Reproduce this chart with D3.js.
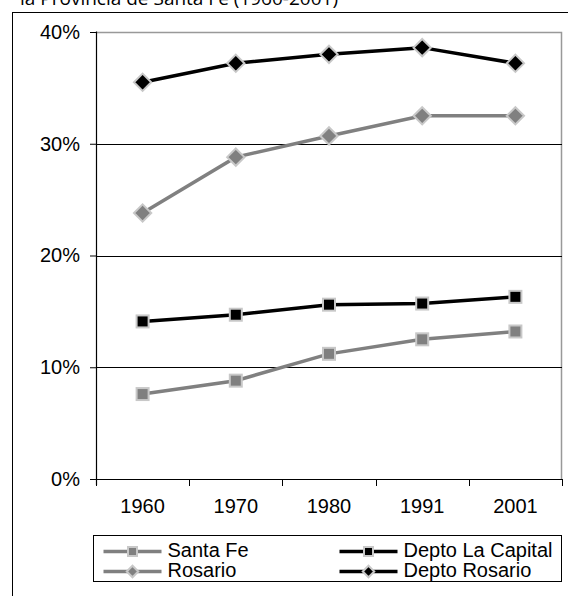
<!DOCTYPE html>
<html>
<head>
<meta charset="utf-8">
<script src="https://cdn.jsdelivr.net/npm/d3@7"></script>
<style>
  body { margin: 0; background: #fff; }
  svg { display: block; }
  .lbl { font-family: "Liberation Sans", Arial, sans-serif; fill: #000; }
</style>
</head>
<body>
<svg id="viz"></svg>
<script>
// chart data
var years = ['1960', '1970', '1980', '1991', '2001'];
var santaFe = [7.6, 8.8, 11.2, 12.5, 13.2];
var deptoLaCapital = [14.1, 14.7, 15.6, 15.7, 16.3];
var rosario = [23.8, 28.8, 30.7, 32.5, 32.5];
var deptoRosario = [35.5, 37.2, 38.0, 38.6, 37.2];
var yTicks = [0, 10, 20, 30, 40];

var seriesList = [
  { name: 'Santa Fe', values: santaFe, color: '#808080', shape: 'square' },
  { name: 'Depto La Capital', values: deptoLaCapital, color: '#000', shape: 'square' },
  { name: 'Rosario', values: rosario, color: '#808080', shape: 'diamond' },
  { name: 'Depto Rosario', values: deptoRosario, color: '#000', shape: 'diamond' }
];

var width = 568, height = 596;
var margin = { top: 32, right: 6, bottom: 117, left: 96 };
var drawWidth = width - margin.left - margin.right;
var drawHeight = height - margin.top - margin.bottom;

var svg = d3.select('#viz').attr('width', width).attr('height', height);

// title (cut off at top)
svg.append('text')
   .attr('x', 20).attr('y', 5)
   .style('font-family', '"Open Sans", "DejaVu Sans", sans-serif')
   .style('font-size', '19px')
   .text('la Provincia de Santa Fe (1960-2001)');

// outer chart frame
svg.append('rect')
   .attr('x', 12.5).attr('y', 12.5)
   .attr('width', 600).attr('height', 600)
   .attr('fill', 'none').attr('stroke', '#000').attr('stroke-width', 1);

var g = svg.append('g').attr('transform', `translate(${margin.left}, ${margin.top})`);

var xScale = d3.scaleBand().domain(years).range([0, drawWidth]);
var yScale = d3.scaleLinear().domain([0, 40]).range([drawHeight, 0]);

// plot area border (gray top/right)
g.append('path')
 .attr('d', `M0.5,0.5H${drawWidth - 0.5}V${drawHeight}`)
 .attr('fill', 'none').attr('stroke', '#999').attr('stroke-width', 1.5);

// gridlines
g.selectAll('.grid').data(yTicks.slice(1, 4)).enter()
 .append('line')
 .attr('x1', 0).attr('x2', drawWidth)
 .attr('y1', d => Math.round(yScale(d)) + 0.5).attr('y2', d => Math.round(yScale(d)) + 0.5)
 .attr('stroke', '#000').attr('stroke-width', 1);

// y axis
var yAxis = d3.axisLeft(yScale).tickValues(yTicks).tickFormat(d => d + '%').tickSize(6).tickPadding(10);
var yg = g.append('g').call(yAxis).attr('font-family', null).attr('font-size', null);
yg.select('.domain').attr('d', `M0.5,-0.5V${drawHeight + 6}`).attr('stroke-width', 1.2);
yg.selectAll('text').attr('class', 'lbl').style('font-size', '20px');

// x axis
var xg = g.append('g').attr('transform', `translate(0, ${drawHeight})`);
xg.append('line').attr('x1', -6).attr('x2', drawWidth).attr('y1', 0.5).attr('y2', 0.5)
  .attr('stroke', '#000').attr('stroke-width', 1.2);
xg.selectAll('.xtick').data(years.concat(['end'])).enter()
  .append('line')
  .attr('x1', (d, i) => Math.round(i * xScale.step()) + 0.5)
  .attr('x2', (d, i) => Math.round(i * xScale.step()) + 0.5)
  .attr('y1', 0).attr('y2', 7)
  .attr('stroke', '#000');
xg.selectAll('.xlabel').data(years).enter()
  .append('text')
  .attr('class', 'lbl')
  .attr('x', d => xScale(d) + xScale.bandwidth() / 2)
  .attr('y', 34)
  .attr('text-anchor', 'middle')
  .style('font-size', '20px')
  .text(d => d);

var line = d3.line()
  .x((d, i) => xScale(years[i]) + xScale.bandwidth() / 2)
  .y(d => yScale(d));

function drawMarker(sel, shape, color, size) {
  if (shape === 'square') {
    sel.append('rect')
       .attr('x', -size / 2).attr('y', -size / 2)
       .attr('width', size).attr('height', size)
       .attr('fill', color).attr('stroke', '#c8c8c8').attr('stroke-width', 2);
  } else {
    var r = size * 0.72;
    sel.append('path')
       .attr('d', `M0,${-r}L${r},0L0,${r}L${-r},0Z`)
       .attr('fill', color).attr('stroke', '#c8c8c8').attr('stroke-width', 2);
  }
}

seriesList.forEach(function (s) {
  g.append('path')
   .attr('d', line(s.values))
   .attr('fill', 'none').attr('stroke', s.color).attr('stroke-width', 3.5);
  s.values.forEach(function (v, i) {
    var m = g.append('g')
      .attr('transform', `translate(${xScale(years[i]) + xScale.bandwidth() / 2}, ${yScale(v)})`);
    drawMarker(m, s.shape, s.color, 12);
  });
});

// legend
var legend = svg.append('g').attr('transform', 'translate(93.5, 535.5)');
legend.append('rect').attr('width', 468).attr('height', 46)
      .attr('fill', '#fff').attr('stroke', '#000').attr('stroke-width', 1);

var legendPos = [
  { x: 10, y: 16 }, { x: 246, y: 16 },
  { x: 10, y: 36 }, { x: 246, y: 36 }
];
seriesList.forEach(function (s, i) {
  var p = legendPos[i];
  var item = legend.append('g').attr('transform', `translate(${p.x}, ${p.y})`);
  item.append('line').attr('x1', 0).attr('x2', 58).attr('y1', 0).attr('y2', 0)
      .attr('stroke', s.color).attr('stroke-width', 3.5);
  var m = item.append('g').attr('transform', 'translate(29, 0)');
  drawMarker(m, s.shape, s.color, s.shape === 'square' ? 9 : 8);
  item.append('text').attr('class', 'lbl').attr('x', 64).attr('y', 5)
      .style('font-size', '20px').text(s.name);
});
</script>
</body>
</html>
